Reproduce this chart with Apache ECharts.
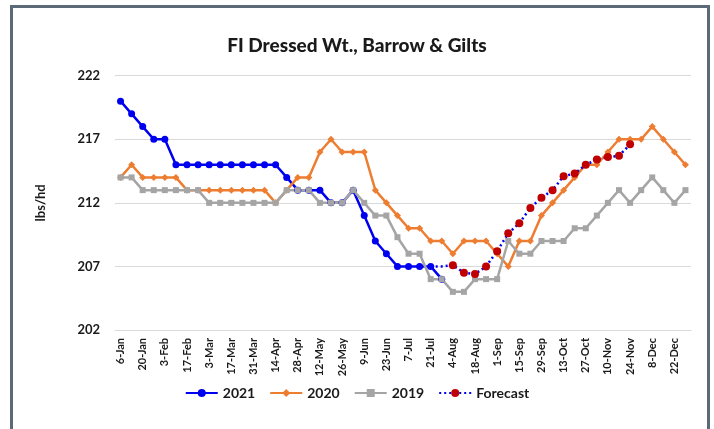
<!DOCTYPE html>
<html>
<head>
<meta charset="utf-8">
<script src="https://cdn.jsdelivr.net/npm/echarts@6/dist/echarts.min.js"></script>
<style>
  html, body { margin: 0; padding: 0; background: #ffffff; }
  #chart { width: 714px; height: 429px; }
</style>
</head>
<body>
<div id="chart"></div>
<script>
// Weekly slaughter dates (every other one is labelled on the axis)
const weeks = ['6-Jan','13-Jan','20-Jan','27-Jan','3-Feb','10-Feb','17-Feb','24-Feb',
  '3-Mar','10-Mar','17-Mar','24-Mar','31-Mar','7-Apr','14-Apr','21-Apr','28-Apr','5-May',
  '12-May','19-May','26-May','2-Jun','9-Jun','16-Jun','23-Jun','30-Jun','7-Jul','14-Jul',
  '21-Jul','28-Jul','4-Aug','11-Aug','18-Aug','25-Aug','1-Sep','8-Sep','15-Sep','22-Sep',
  '29-Sep','6-Oct','13-Oct','20-Oct','27-Oct','3-Nov','10-Nov','17-Nov','24-Nov','1-Dec',
  '8-Dec','15-Dec','22-Dec','29-Dec'];

// Federally inspected dressed weight, barrows & gilts (lbs/head)
const wt2021 = [220,219,218,217,217,215,215,215,215,215,215,215,215,215,215,214,213,213,
  213,212,212,213,211,209,208,207,207,207,207,206];

const wt2020 = [214,215,214,214,214,214,213,213,213,213,213,213,213,213,212,213,214,214,
  216,217,216,216,216,213,212,211,210,210,209,209,208,209,209,209,208,207,209,209,
  211,212,213,214,215,215,216,217,217,217,218,217,216,215];

const wt2019 = [214,214,213,213,213,213,213,213,212,212,212,212,212,212,212,213,213,213,
  212,212,212,213,212,211,211,209.3,208,208,206,206,205,205,206,206,206,209,208,208,
  209,209,209,210,210,211,212,213,212,213,214,213,212,213];

// Forecast: starts from the last reported week (index 28), markers from index 30
const forecastStart = 28;
const forecastBridge = [207, 207];
const forecastVals = [207.1,206.5,206.4,207.0,208.2,209.6,210.4,211.6,212.4,213.0,
  214.1,214.3,215.0,215.4,215.6,215.7,216.6];

const yTicks = { min: 202, max: 222, step: 5 };

const forecastData = weeks.map(() => null);
forecastBridge.forEach((v, i) => { forecastData[forecastStart + i] = { value: v, symbol: 'none' }; });
forecastVals.forEach((v, i) => { forecastData[forecastStart + forecastBridge.length + i] = v; });

const FONT = 'Lato, "Liberation Sans", sans-serif';
const chart = echarts.init(document.getElementById('chart'), null, { renderer: 'canvas' });

chart.setOption({
  backgroundColor: '#ffffff',
  animation: false,
  title: {
    text: 'FI Dressed Wt., Barrow & Gilts',
    left: 'center',
    top: 31,
    textStyle: { fontFamily: FONT, fontSize: 19, fontWeight: 900, color: '#1a1a1a' }
  },
  graphic: [{
    type: 'rect',
    shape: { x: 11.5, y: 6.5, width: 697, height: 440 },
    style: { fill: 'none', stroke: '#5b6a76', lineWidth: 3 },
    silent: true
  }],
  legend: {
    bottom: 24,
    left: 'center',
    itemWidth: 32,
    itemHeight: 10,
    itemGap: 14,
    textStyle: { fontFamily: FONT, fontSize: 14, fontWeight: 'bold', color: '#1a1a1a' },
    data: ['2021', '2020', '2019', 'Forecast']
  },
  grid: { left: 115, right: 23, top: 75.7, bottom: 99 },
  xAxis: {
    type: 'category',
    data: weeks,
    boundaryGap: true,
    axisLine: { show: true, lineStyle: { color: '#d9d9d9', width: 1 } },
    axisTick: { show: false },
    axisLabel: {
      interval: 1,
      rotate: 90,
      margin: 8,
      fontFamily: FONT,
      fontSize: 11,
      fontWeight: 'bold',
      color: '#1a1a1a'
    }
  },
  yAxis: {
    type: 'value',
    min: yTicks.min,
    max: yTicks.max,
    interval: yTicks.step,
    name: 'lbs/hd',
    nameLocation: 'middle',
    nameRotate: 90,
    nameGap: 68,
    nameTextStyle: { fontFamily: FONT, fontSize: 13, fontWeight: 'bold', color: '#1a1a1a' },
    axisLine: { show: false },
    axisTick: { show: false },
    axisLabel: { margin: 15, fontFamily: FONT, fontSize: 13, fontWeight: 'bold', color: '#1a1a1a' },
    splitLine: { lineStyle: { color: '#d9d9d9', width: 1 } }
  },
  series: [
    {
      name: '2021', type: 'line', data: wt2021,
      symbol: 'circle', symbolSize: 7, showAllSymbol: true,
      lineStyle: { color: '#0000f0', width: 2.5 },
      itemStyle: { color: '#0000f0' }
    },
    {
      name: '2020', type: 'line', data: wt2020,
      symbol: 'diamond', symbolSize: 7, showAllSymbol: true,
      lineStyle: { color: '#ed7d31', width: 2.5 },
      itemStyle: { color: '#ed7d31' }
    },
    {
      name: '2019', type: 'line', data: wt2019,
      symbol: 'rect', symbolSize: 6, showAllSymbol: true,
      lineStyle: { color: '#a5a5a5', width: 2.5 },
      itemStyle: { color: '#a5a5a5' }
    },
    {
      name: 'Forecast', type: 'line', data: forecastData,
      symbol: 'circle', symbolSize: 8, showAllSymbol: true,
      connectNulls: false,
      lineStyle: { color: '#0000f0', width: 2.5, type: [2, 3] },
      itemStyle: { color: '#c00000' }
    }
  ]
});
</script>
</body>
</html>
